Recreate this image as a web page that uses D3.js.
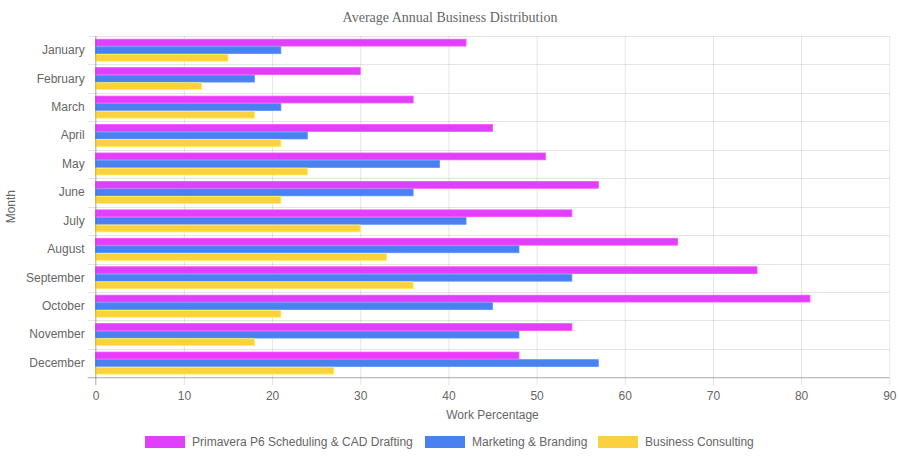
<!DOCTYPE html>
<html><head><meta charset="utf-8">
<script src="https://cdn.jsdelivr.net/npm/d3@7"></script>
<style>body{margin:0;background:#fff}svg{display:block}</style>
</head><body><svg id="c" width="899" height="460"></svg>
<script>
const months = ["January","February","March","April","May","June","July","August","September","October","November","December"];
const primavera = [42,30,36,45,51,57,54,66,75,81,54,48];
const marketing = [21,18,21,24,39,36,42,48,54,45,48,57];
const consulting = [15,12,18,21,24,21,30,33,36,21,18,27];
const seriesNames = ["Primavera P6 Scheduling & CAD Drafting","Marketing & Branding","Business Consulting"];
const seriesColors = ["#e040fb","#4a80f0","#fcd13f"];
const xTicks = [0,10,20,30,40,50,60,70,80,90];

const series = [primavera, marketing, consulting];
const svg = d3.select("#c");
const m = {l:95.7, r:889.3, t:36, b:377.3};
const x = d3.scaleLinear().domain([0,90]).range([m.l, m.r]);
const y = d3.scaleBand().domain(months).range([m.t, m.b]);
const inner = d3.scaleBand().domain([0,1,2]).range([0, y.bandwidth()*0.8]);
const grid = "rgba(0,0,0,0.1)";
const font = "Arial, 'Liberation Sans', sans-serif";

// title
svg.append("text").attr("x", 450).attr("y", 22).attr("text-anchor","middle")
  .attr("font-family","'Liberation Serif', 'Times New Roman', serif").attr("font-size",14).attr("fill","#666")
  .text("Average Annual Business Distribution");

// vertical grid + x ticks
const xa = svg.append("g").attr("transform",`translate(0,${m.b})`)
  .call(d3.axisBottom(x).tickValues(xTicks).tickSize(8).tickPadding(6));
xa.select(".domain").remove();
xa.selectAll(".tick line").attr("stroke",grid).attr("y1",-(m.b-m.t)).attr("y2",8);
xa.selectAll(".tick text").attr("font-family",font).attr("font-size",12).attr("fill","#666");

// horizontal grid lines (category boundaries)
const bounds = months.map(d=>y(d)).concat([m.b]);
svg.append("g").selectAll("line").data(bounds).join("line")
  .attr("x1", m.l-8).attr("x2", m.r).attr("y1", d=>Math.round(d)+0.5).attr("y2", d=>Math.round(d)+0.5)
  .attr("stroke", grid);

// y labels
const ya = svg.append("g").attr("transform",`translate(${m.l},0)`)
  .call(d3.axisLeft(y).tickSize(0).tickPadding(11));
ya.select(".domain").remove();
ya.selectAll(".tick text").attr("font-family",font).attr("font-size",12).attr("fill","#666");

// bars
series.forEach((vals,si)=>{
  svg.append("g").selectAll("rect").data(vals).join("rect")
    .attr("x", x(0))
    .attr("y", (d,i)=> y(months[i]) + y.bandwidth()*0.1 + inner(si) + inner.bandwidth()*0.05)
    .attr("width", d=> x(d)-x(0))
    .attr("height", inner.bandwidth()*0.9)
    .attr("fill", seriesColors[si])
    .attr("stroke", d3.color(seriesColors[si]).brighter(0.4))
    .attr("stroke-width", 0.8);
});

// axis lines
svg.append("line").attr("x1",m.l).attr("x2",m.l).attr("y1",m.t).attr("y2",m.b+8).attr("stroke","rgba(0,0,0,0.25)");
svg.append("line").attr("x1",m.l-8).attr("x2",m.r).attr("y1",m.b+0.5).attr("y2",m.b+0.5).attr("stroke","rgba(0,0,0,0.25)");

// axis titles
svg.append("text").attr("x",(m.l+m.r)/2).attr("y",419).attr("text-anchor","middle")
  .attr("font-family",font).attr("font-size",12).attr("fill","#666").text("Work Percentage");
svg.append("text").attr("transform",`translate(15,${(m.t+m.b)/2}) rotate(-90)`).attr("text-anchor","middle")
  .attr("font-family",font).attr("font-size",12).attr("fill","#666").text("Month");

// legend
const legX = [145, 425, 598];
const lg = svg.append("g");
seriesNames.forEach((n,i)=>{
  lg.append("rect").attr("x",legX[i]).attr("y",436).attr("width",40).attr("height",12)
    .attr("fill",seriesColors[i]);
  lg.append("text").attr("x",legX[i]+47).attr("y",446).attr("font-family",font).attr("font-size",12)
    .attr("fill","#666").text(n);
});
</script></body></html>
